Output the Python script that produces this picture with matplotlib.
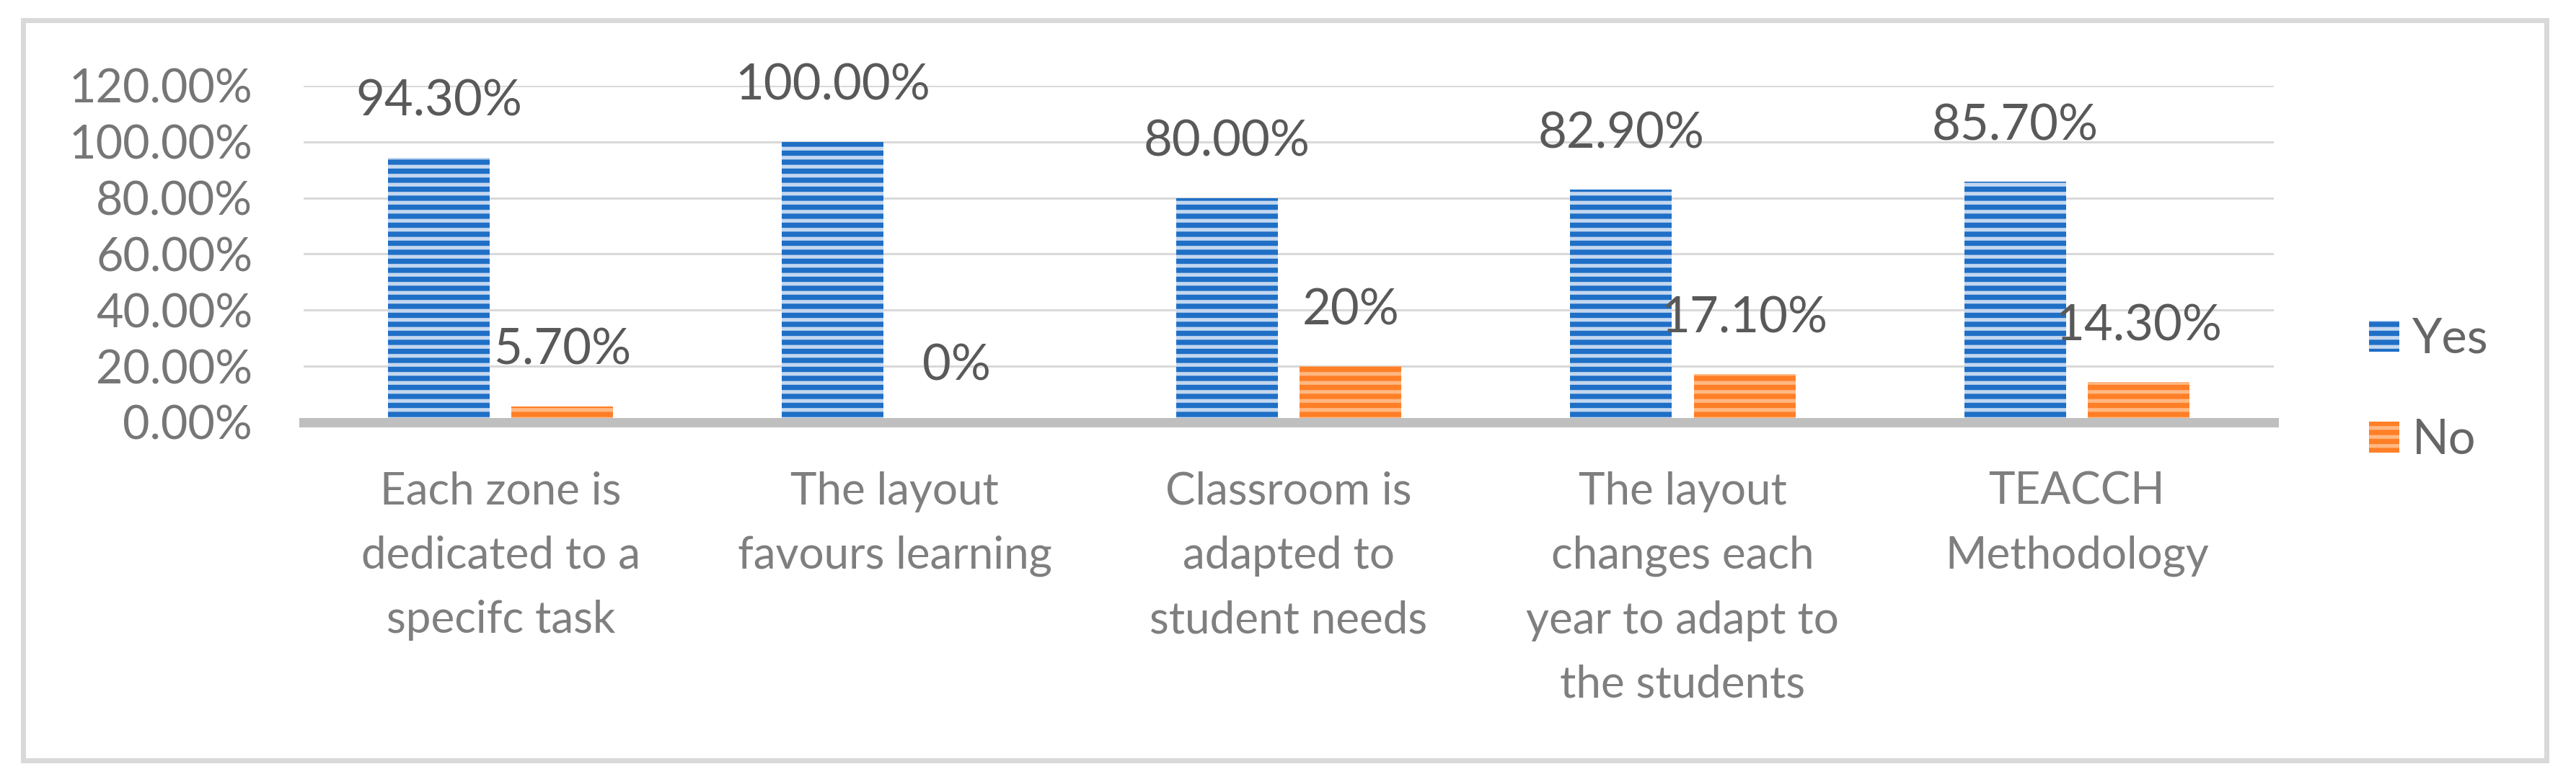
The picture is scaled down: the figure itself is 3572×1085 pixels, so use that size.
import matplotlib.pyplot as plt
from matplotlib.patches import Rectangle
from matplotlib.ticker import FuncFormatter
import numpy as np

# dane z wykresu
categories = ["Each zone is\ndedicated to a\nspecifc task",
              "The layout\nfavours learning",
              "Classroom is\nadapted to\nstudent needs",
              "The layout\nchanges each\nyear to adapt to\nthe students",
              "TEACCH\nMethodology"]
yes_vals = [0.943, 1.0, 0.80, 0.829, 0.857]
no_vals = [0.057, 0.0, 0.20, 0.171, 0.143]
yes_text = ["94.30%", "100.00%", "80.00%", "82.90%", "85.70%"]
no_text = ["5.70%", "0%", "20%", "17.10%", "14.30%"]
series = ["Yes", "No"]

DPI = 75
W, H = 3572, 1085

plt.rcParams['font.family'] = ['Lato', 'DejaVu Sans']
plt.rcParams['hatch.linewidth'] = 5

fig = plt.figure(figsize=(W / DPI, H / DPI), dpi=DPI)
fig.patch.set_facecolor('white')

# obszar wykresu w pikselach: x 421..3153, y 119..586
ax = fig.add_axes([421 / W, 1 - 586 / H, (3153 - 421) / W, (586 - 119) / H])

x = np.arange(len(categories))
bw = 0.258
off = 0.157
b1 = ax.bar(x - off, yes_vals, bw, color='#1F6FC6', edgecolor='#C3D7F0',
            linewidth=0, hatch='-', label=series[0])
b2 = ax.bar(x + off, no_vals, bw, color='#FF7F27', edgecolor='#FFB883',
            linewidth=0, hatch='-', label=series[1])

# etykiety nad słupkami
for bars, txt in ((b1, yes_text), (b2, no_text)):
    for rect, t in zip(bars, txt):
        ax.annotate(t, (rect.get_x() + rect.get_width() / 2, rect.get_height()),
                    xytext=(0, 55.7), textcoords='offset points',
                    ha='center', va='baseline', fontsize=66, color='#595959')

ax.set_xlim(-0.5, len(categories) - 0.5)
ax.set_ylim(0, 1.2)
ax.set_yticks(np.arange(0, 1.21, 0.2))
ax.yaxis.set_major_formatter(FuncFormatter(lambda v, p: f"{v * 100:.2f}%"))
ax.set_xticks(x)
ax.set_xticklabels(categories, linespacing=1.7)

ax.tick_params(axis='y', length=0, pad=68, labelsize=62, labelcolor='#767676')
ax.tick_params(axis='x', length=0, pad=65, labelsize=59.5, labelcolor='#7F7F7F')

ax.yaxis.grid(True, color='#D9D9D9', linewidth=2.9)
ax.set_axisbelow(True)
for s in ('top', 'left', 'right'):
    ax.spines[s].set_visible(False)
ax.spines['bottom'].set_color('#BFBFBF')
ax.spines['bottom'].set_linewidth(12.5)
ax.spines['bottom'].set_zorder(3)

leg = fig.legend(handles=[b1, b2], labels=series, loc='center left',
                 bbox_to_anchor=(3285 / W, 1 - 541 / H), frameon=False,
                 fontsize=64, labelcolor='#666666', borderpad=0, borderaxespad=0,
                 handlelength=0.63, handleheight=0.6, handletextpad=0.27,
                 labelspacing=1.17)

# ramka dookoła całego wykresu
fig.patches.append(Rectangle((32 / W, 1 - 1055 / H), (3531 - 32) / W, (1055 - 28) / H,
                             transform=fig.transFigure, fill=False,
                             edgecolor='#D9D9D9', linewidth=6.7))

fig.savefig('out.png', dpi=DPI)
